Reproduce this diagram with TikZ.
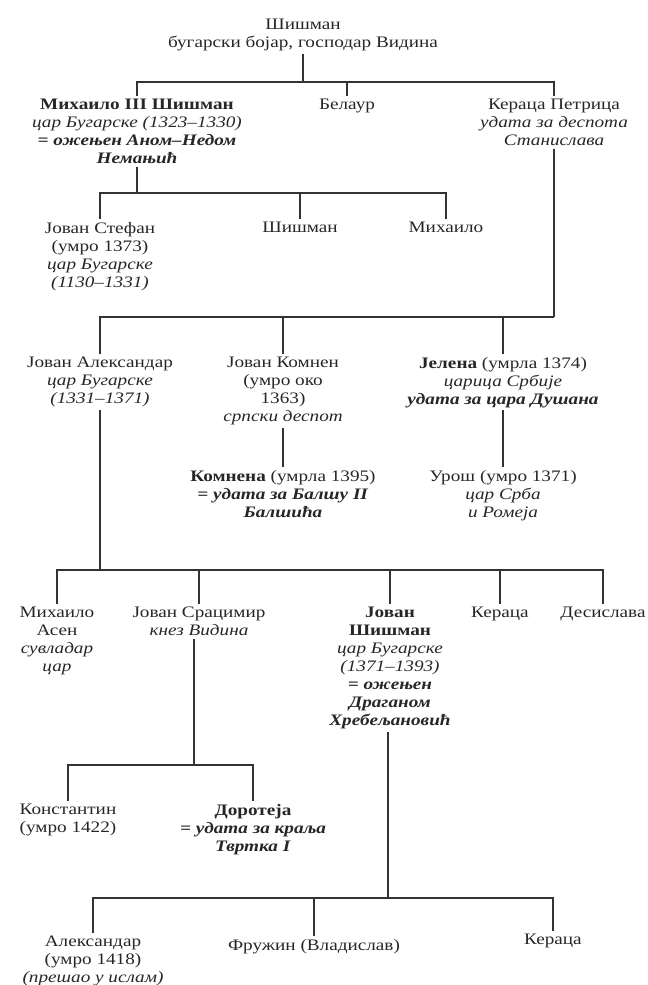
\documentclass[tikz,border=0pt]{standalone}
\usepackage{fontspec}
\setmainfont{Liberation Serif}[Language=Serbian, FakeStretch=1.2]

\begin{document}
\begin{tikzpicture}[x=0.75pt, y=-0.75pt,
    person/.style={align=center, anchor=north, inner sep=2pt, text=black!85,
      font=\fontsize{12}{13.5}\selectfont},
    tree/.style={draw=black!80, line width=1.4pt}]
  \useasboundingbox (0,0) rectangle (648,985);

  % Nodes for the family members
  \node[person] (S0) at (303, 16) {Шишман\\ бугарски бојар, господар Видина};

  \node[person] (M1) at (137, 96) {\textbf{Михаило III Шишман}\\ \textit{цар Бугарске (1323–1330)}\\ \textbf{\textit{= ожењен Аном–Недом}}\\ \textbf{\textit{Немањић}}};
  \node[person] (B1) at (347, 96) {Белаур};
  \node[person] (K1) at (554, 96) {Кераца Петрица\\ \textit{удата за деспота}\\ \textit{Станислава}};

  \node[person] (J2) at (100, 219) {Јован Стефан\\ (умро 1373)\\ \textit{цар Бугарске}\\ \textit{(1130–1331)}};
  \node[person] (S2) at (300, 219) {Шишман};
  \node[person] (M2) at (446, 219) {Михаило};

  \node[person] (A3) at (100, 354) {Јован Александар\\ \textit{цар Бугарске}\\ \textit{(1331–1371)}};
  \node[person] (K3) at (283, 354) {Јован Комнен\\ (умро око\\ 1363)\\ \textit{српски деспот}};
  \node[person] (E3) at (503, 354) {\textbf{Јелена} (умрла 1374)\\ \textit{царица Србије}\\ \textbf{\textit{удата за цара Душана}}};

  \node[person] (K4) at (283, 467) {\textbf{Комнена} (умрла 1395)\\ \textbf{\textit{= удата за Балшу II}}\\ \textbf{\textit{Балшића}}};
  \node[person] (U4) at (503, 467) {Урош (умро 1371)\\ \textit{цар Срба}\\ \textit{и Ромеја}};

  \node[person] (M5) at (57, 604) {Михаило\\ Асен\\ \textit{сувладар}\\ \textit{цар}};
  \node[person] (C5) at (199, 604) {Јован Срацимир\\ \textit{кнез Видина}};
  \node[person] (S5) at (390, 604) {\textbf{Јован}\\ \textbf{Шишман}\\ \textit{цар Бугарске}\\ \textit{(1371–1393)}\\ \textbf{\textit{= ожењен}}\\ \textbf{\textit{Драганом}}\\ \textbf{\textit{Хребељановић}}};
  \node[person] (K5) at (500, 604) {Кераца};
  \node[person] (D5) at (603, 604) {Десислава};

  \node[person] (K6) at (68, 801) {Константин\\ (умро 1422)};
  \node[person] (D6) at (253, 801) {\textbf{Доротеја}\\ \textbf{\textit{= удата за краља}}\\ \textbf{\textit{Твртка I}}};

  \node[person] (A7) at (93, 933) {Александар\\ (умро 1418)\\ \textit{(прешао у ислам)}};
  \node[person] (F7) at (314, 936) {Фружин (Владислав)};
  \node[person] (K7) at (553, 931) {Кераца};

  % Junctions on the bars
  \coordinate (b0) at (303, 82);
  \coordinate (b1) at (137, 193);
  \coordinate (b2) at (554, 317);
  \coordinate (b3) at (100, 570);
  \coordinate (b4) at (194, 765);
  \coordinate (b5) at (388, 898);

  % Lines of descent
  \draw[tree] (S0) -- (b0);
  \draw[tree] (M1) |- (b0);
  \draw[tree] (B1) |- (b0);
  \draw[tree] (K1) |- (b0);

  \draw[tree] (M1) -- (b1);
  \draw[tree] (J2) |- (b1);
  \draw[tree] (S2) |- (b1);
  \draw[tree] (M2) |- (b1);

  \draw[tree] (K1) -- (b2);
  \draw[tree] (A3) |- (b2);
  \draw[tree] (K3) |- (b2);
  \draw[tree] (E3) |- (b2);

  \draw[tree] (K3) -- (K4);
  \draw[tree] (E3) -- (U4);

  \draw[tree] (A3) -- (b3);
  \draw[tree] (M5) |- (b3);
  \draw[tree] (C5) |- (b3);
  \draw[tree] (S5) |- (b3);
  \draw[tree] (K5) |- (b3);
  \draw[tree] (D5) |- (b3);

  \draw[tree] (b4 |- C5.south) -- (b4);
  \draw[tree] (K6) |- (b4);
  \draw[tree] (D6) |- (b4);

  \draw[tree] (b5 |- S5.south) -- (b5);
  \draw[tree] (A7) |- (b5);
  \draw[tree] (F7) |- (b5);
  \draw[tree] (K7) |- (b5);
\end{tikzpicture}
\end{document}
